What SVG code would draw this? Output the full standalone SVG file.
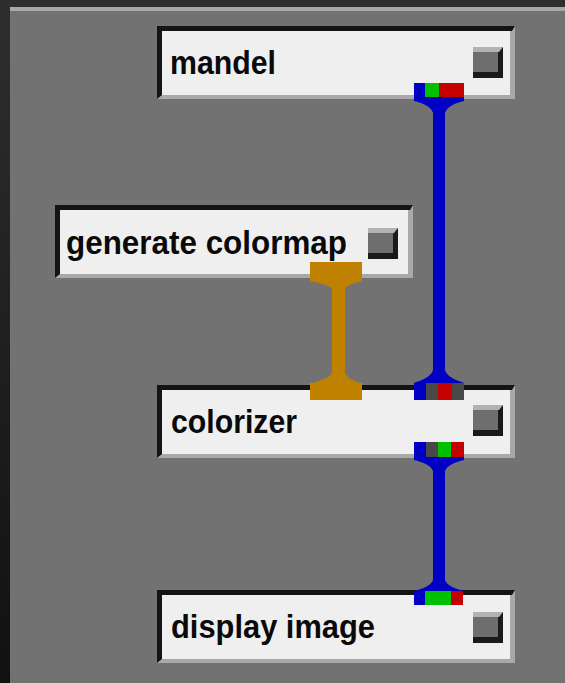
<svg xmlns="http://www.w3.org/2000/svg" width="565" height="683" viewBox="0 0 565 683">
  <style>
    .bevel { fill: #a9a9a9; }
    .dark { fill: #141414; }
    .face { fill: #efefef; }
    .label { font-family: "Liberation Sans", Arial, sans-serif; font-weight: bold; font-size: 30px; fill: #0a0a0a; }
    .btn-dark { fill: #1a1a1a; }
    .btn-light { fill: #b2b2b2; }
    .btn-body { fill: #6e6e6e; }
    .p-blue { fill: #0000c4; }
    .p-green { fill: #00c000; }
    .p-red { fill: #c40000; }
    .p-gray { fill: #484848; }
    .p-orange { fill: #c08000; }
  </style>
  <defs>
    <linearGradient id="sideShade" x1="0" y1="0" x2="0" y2="1">
      <stop offset="0" stop-color="#2e2e2e"/>
      <stop offset="1" stop-color="#111111"/>
    </linearGradient>
    <!-- module frame: dark top/left edge, light bottom/right bevel -->
    <g id="frame">
      <rect class="bevel" x="0" y="0" width="358" height="73"/>
      <path class="dark" d="M0,0 H358 L355,5 H5 V69 L0,73 Z"/>
      <rect class="face" x="5" y="5" width="348" height="64"/>
    </g>
    <!-- small square toggle button -->
    <g id="button">
      <rect class="btn-dark" x="0" y="0" width="30" height="31"/>
      <path class="btn-light" d="M0,0 H30 L26,5 H0 Z"/>
      <rect class="btn-body" x="0" y="5" width="25" height="20"/>
    </g>
  </defs>

  <!-- workspace background -->
  <rect x="0" y="0" width="565" height="683" fill="#727272"/>
  <rect x="0" y="0" width="565" height="7" fill="#2e2e2e"/>
  <rect x="10" y="7" width="555" height="4" fill="#a8a8a8"/>
  <rect x="0" y="0" width="10" height="683" fill="url(#sideShade)"/>

  <!-- modules -->
  <g id="mandel" transform="translate(157,26)">
    <use href="#frame"/>
    <use href="#button" x="316" y="21"/>
    <text class="label" transform="translate(13,48) scale(1,1.1)" textLength="106" lengthAdjust="spacingAndGlyphs">mandel</text>
    <!-- output port -->
    <rect class="p-blue" x="257" y="57" width="11" height="14"/>
    <rect class="p-green" x="268" y="57" width="14" height="14"/>
    <rect class="p-red" x="282" y="57" width="25" height="14"/>
  </g>

  <g id="generate-colormap" transform="translate(55,205)">
    <use href="#frame"/>
    <use href="#button" x="313" y="23"/>
    <text class="label" transform="translate(11,49) scale(1,1.1)" textLength="281" lengthAdjust="spacingAndGlyphs">generate colormap</text>
    <!-- output port -->
    <rect class="p-orange" x="255" y="57" width="52" height="19"/>
  </g>

  <g id="colorizer" transform="translate(157,385)">
    <use href="#frame"/>
    <use href="#button" x="316" y="20"/>
    <text class="label" transform="translate(14,48) scale(1,1.1)" textLength="126" lengthAdjust="spacingAndGlyphs">colorizer</text>
    <!-- input ports -->
    <rect class="p-orange" x="153" y="-2" width="52" height="17"/>
    <rect class="p-blue" x="257" y="-2" width="12" height="17"/>
    <rect class="p-gray" x="269" y="-2" width="12" height="17"/>
    <rect class="p-red" x="281" y="-2" width="14" height="17"/>
    <rect class="p-gray" x="295" y="-2" width="12" height="17"/>
    <!-- output port -->
    <rect class="p-blue" x="257" y="57" width="12" height="15"/>
    <rect class="p-gray" x="269" y="57" width="12" height="15"/>
    <rect class="p-green" x="281" y="57" width="13" height="15"/>
    <rect class="p-red" x="294" y="57" width="13" height="15"/>
  </g>

  <g id="display-image" transform="translate(157,590)">
    <use href="#frame"/>
    <use href="#button" x="316" y="22"/>
    <text class="label" transform="translate(14,48) scale(1,1.1)" textLength="204" lengthAdjust="spacingAndGlyphs">display image</text>
    <!-- input port -->
    <rect class="p-blue" x="257" y="1" width="11" height="14"/>
    <rect class="p-green" x="268" y="1" width="26" height="14"/>
    <rect class="p-red" x="294" y="1" width="12" height="14"/>
  </g>

  <!-- connections -->
  <g id="connectors">
    <!-- mandel -> colorizer (image) -->
    <path class="p-blue" d="M414,97 H464 V101 C456,103 447,106 445,113 V370 C447,377 456,380 464,383 H414 C422,380 431,377 433,370 V113 C431,106 422,103 414,101 Z"/>
    <!-- generate colormap -> colorizer (colormap) -->
    <path class="p-orange" d="M310,281 H362 C354,283 347,285 345,289 V373 C347,378 354,381 362,384 H310 C318,381 330,378 332,373 V289 C330,285 318,283 310,281 Z"/>
    <!-- colorizer -> display image -->
    <path class="p-blue" d="M414,457 H464 V460 C456,462 447,465 445,471 V580 C447,586 456,589 464,591 H414 C422,589 431,586 433,580 V471 C431,465 422,462 414,460 Z"/>
  </g>
</svg>
